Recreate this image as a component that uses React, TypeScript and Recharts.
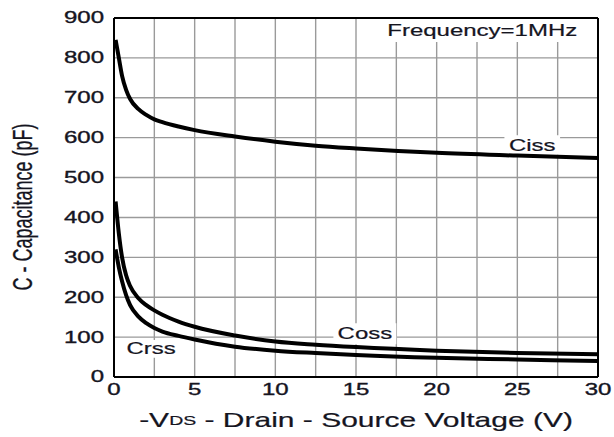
import { LineChart, Line, XAxis, YAxis, CartesianGrid, ReferenceLine, ReferenceArea } from "recharts";

// drain-source voltage (V)
const vds = [0.1, 0.3, 0.5, 0.75, 1, 1.5, 2, 2.5, 3, 4, 5, 7.5, 10, 12.5, 15, 20, 25, 30];
// capacitances (pF)
const ciss = [845, 800, 755, 720, 697, 672, 657, 646, 639, 628, 619, 603, 590, 580, 573, 562, 555, 549];
const coss = [440, 360, 300, 255, 228, 198, 180, 167, 156, 139, 126, 104, 89, 81, 75, 66, 60, 57];
const crss = [320, 275, 240, 205, 180, 152, 135, 123, 114, 103, 94, 76, 66, 60, 55, 48, 44, 40];

const xTicks = [0, 2.5, 5, 7.5, 10, 12.5, 15, 17.5, 20, 22.5, 25, 27.5, 30];
const yTicks = [0, 50, 100, 150, 200, 250, 300, 350, 400, 450, 500, 550, 600, 650, 700, 750, 800, 850, 900];

const data = vds.map((v, i) => ({ v, ciss: ciss[i], coss: coss[i], crss: crss[i] }));

const FONT = "Arial, 'Liberation Sans', sans-serif";
const INK = "#15151f";
const SX = 1.5; // the source picture is stretched sideways

const XTick = (props: any) => {
  const { x, y, payload } = props;
  if (payload.value % 5 !== 0) return null;
  return (
    <text transform={`translate(${x},${y + 13}) scale(${SX},1)`} textAnchor="middle" dominantBaseline="central"
      fontSize={16} fontFamily={FONT} fill={INK} stroke={INK} strokeWidth={0.35}>
      {payload.value}
    </text>
  );
};

const YTick = (props: any) => {
  const { x, y, payload } = props;
  if (payload.value % 100 !== 0) return null;
  return (
    <text transform={`translate(${x - 10},${y}) scale(${SX},1)`} textAnchor="end" dominantBaseline="central"
      fontSize={16} fontFamily={FONT} fill={INK} stroke={INK} strokeWidth={0.35}>
      {payload.value}
    </text>
  );
};

const BoxLabel = ({ viewBox, text }: any) => {
  if (!viewBox) return null;
  const cx = viewBox.x + viewBox.width / 2;
  const cy = viewBox.y + viewBox.height / 2;
  return (
    <text transform={`translate(${cx},${cy}) scale(${SX},1)`} textAnchor="middle" dominantBaseline="central"
      fontSize={16} fontFamily={FONT} fill={INK} stroke={INK} strokeWidth={0.2}>
      {text}
    </text>
  );
};

export default function App() {
  return (
    <div style={{ position: "absolute", left: 0, top: 0, background: "#fff" }}>
      <LineChart width={614} height={437} data={data} margin={{ top: 18, right: 16, left: 0, bottom: 0 }}>
        <CartesianGrid stroke="#9a9a9a" strokeWidth={1.4} />
        <XAxis dataKey="v" type="number" domain={[0, 30]} ticks={xTicks} height={60} tickSize={0} tickMargin={0}
          tick={<XTick />} axisLine={{ stroke: "#000", strokeWidth: 2 }} tickLine={false} />
        <YAxis type="number" domain={[0, 900]} ticks={yTicks} width={114} tickSize={0} tickMargin={0}
          tick={<YTick />} axisLine={{ stroke: "#000", strokeWidth: 2 }} tickLine={false} />
        <ReferenceLine y={900} stroke="#000" strokeWidth={2} />
        <ReferenceLine x={30} stroke="#000" strokeWidth={2} />
        <ReferenceArea x1={15.75} x2={29.9} y1={840} y2={899} fill="#fff" fillOpacity={1} stroke="none"
          label={<BoxLabel text="Frequency=1MHz" />} />
        <ReferenceArea x1={24.2} x2={27.65} y1={557} y2={606} fill="#fff" fillOpacity={1} stroke="none"
          label={<BoxLabel text="Ciss" />} />
        <ReferenceArea x1={13.6} x2={17.5} y1={82} y2={135} fill="#fff" fillOpacity={1} stroke="none"
          label={<BoxLabel text="Coss" />} />
        <ReferenceArea x1={0.5} x2={4.1} y1={48} y2={93} fill="#fff" fillOpacity={1} stroke="none"
          label={<BoxLabel text="Crss" />} />
        <Line dataKey="ciss" type="monotone" stroke="#000" strokeWidth={4} dot={false} isAnimationActive={false} />
        <Line dataKey="coss" type="monotone" stroke="#000" strokeWidth={4} dot={false} isAnimationActive={false} />
        <Line dataKey="crss" type="monotone" stroke="#000" strokeWidth={4} dot={false} isAnimationActive={false} />
        <text transform={`translate(356,420) scale(${SX},1)`} textAnchor="middle" dominantBaseline="central"
          fontSize={20} fontFamily={FONT} fill={INK} stroke={INK} strokeWidth={0.2}>
          -V<tspan fontSize={13}>DS</tspan> - Drain - Source Voltage (V)
        </text>
        <text transform={`translate(23,207) scale(${SX},1) rotate(-90)`} textAnchor="middle" dominantBaseline="central"
          fontSize={18} fontFamily={FONT} fill={INK} stroke={INK} strokeWidth={0.2}>
          C - Capacitance (pF)
        </text>
      </LineChart>
    </div>
  );
}
